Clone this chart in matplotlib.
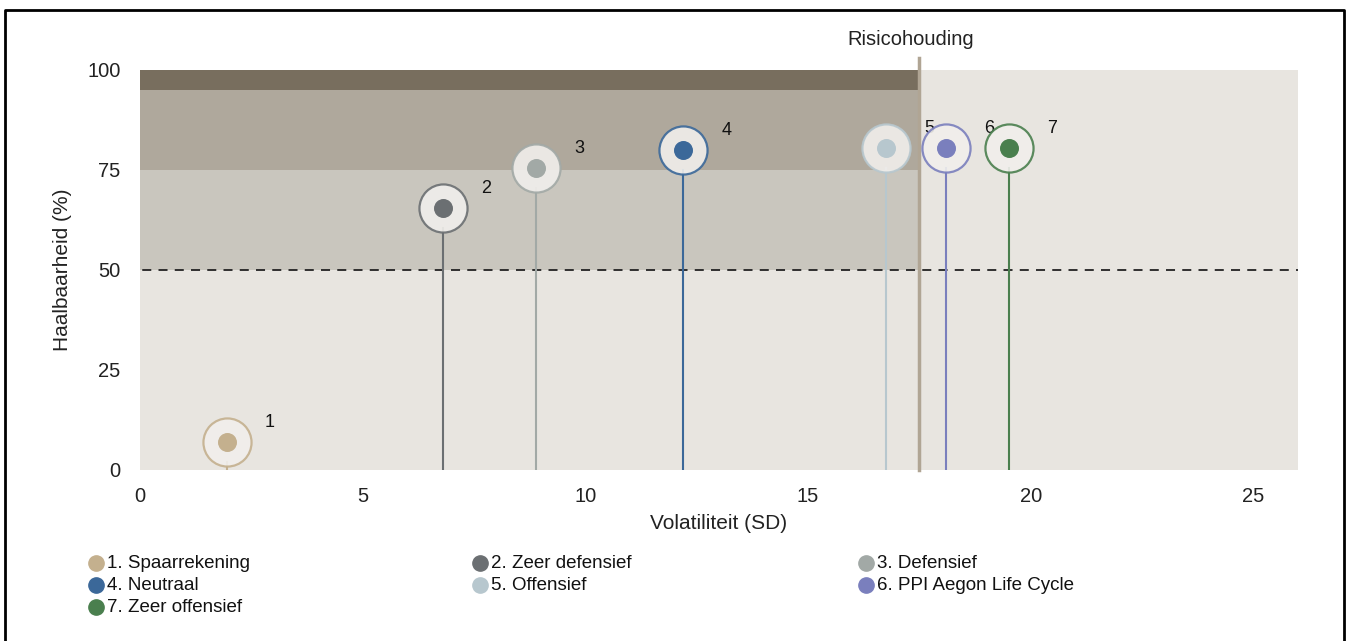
import numpy as np
import matplotlib.pyplot as plt
from matplotlib.lines import Line2D

# risk profile chart: haalbaarheid vs volatiliteit
names = ["1. Spaarrekening", "2. Zeer defensief", "3. Defensief", "4. Neutraal",
         "5. Offensief", "6. PPI Aegon Life Cycle", "7. Zeer offensief"]
labels = ["1", "2", "3", "4", "5", "6", "7"]
volatility = [1.95, 6.8, 8.9, 12.2, 16.75, 18.1, 19.5]
feasibility = [7.0, 65.5, 75.5, 80.0, 80.5, 80.5, 80.5]
colors = ["#c4b08e", "#6b6f72", "#a2a9a6", "#3b6899", "#b7c7ce", "#7a7fbd", "#4a7f4e"]

risk_limit = 17.5
band_edges = [0, 50, 75, 95, 100]
band_colors = ["#e8e5e0", "#c9c6be", "#afa89c", "#786e5e"]

FONT = "Liberation Sans"

fig = plt.figure(figsize=(13.49, 6.41), dpi=100)
ax = fig.add_axes([0.1038, 0.2668, 0.8584, 0.624])
ax.set_xlim(0, 26)
ax.set_ylim(0, 100)

ax.axvspan(0, 26, color="#e8e5e0", lw=0, zorder=0)
for i in range(len(band_colors)):
    ax.fill_between([0, risk_limit], band_edges[i], band_edges[i + 1],
                    color=band_colors[i], lw=0, zorder=0.5)

ax.axhline(50, color="#222222", lw=1.3, ls=(0, (5, 4)), zorder=1, xmin=-0.012)
ax.plot([risk_limit, risk_limit], [0, 103], color="#b0a594", lw=2.5,
        clip_on=False, zorder=1.5)
ax.text(risk_limit - 0.2, 105.3, "Risicohouding", ha="center", va="bottom",
        fontsize=14.5, family=FONT, color="#222222")

for x, y, c, lab in zip(volatility, feasibility, colors, labels):
    ax.plot([x, x], [0, y - 5], color=c, lw=1.5, zorder=2)
    ax.scatter([x], [y], s=1200, facecolor="#f1efec", edgecolor=c, lw=1.6,
               zorder=3, alpha=0.9)
    ax.scatter([x], [y], s=160, color=c, zorder=4)
    ax.annotate(lab, (x, y), xytext=(31, 14), textcoords="offset points",
                fontsize=13, family=FONT, ha="center", va="center",
                color="#111111")

for s in ax.spines.values():
    s.set_visible(False)
ax.tick_params(length=0, labelsize=14.5, colors="#222222")
ax.tick_params(axis="y", pad=14)
ax.tick_params(axis="x", pad=12)
ax.set_xticks([0, 5, 10, 15, 20, 25])
ax.set_yticks([0, 25, 50, 75, 100])
for t in ax.get_xticklabels() + ax.get_yticklabels():
    t.set_family(FONT)
ax.set_xlabel("Volatiliteit (SD)", fontsize=15, family=FONT,
              labelpad=6, color="#222222")
ax.set_ylabel("Haalbaarheid (%)", fontsize=15, family=FONT,
              labelpad=11, color="#222222")

# legend laid out in rows of three
col_x = [96, 480, 866]
row_y = [563, 585, 607]
W, H = 1349, 641
for i, (name, c) in enumerate(zip(names, colors)):
    px = col_x[i % 3]
    py = row_y[i // 3]
    fig.add_artist(Line2D([px / W], [1 - py / H], ls="none", marker="o", ms=11,
                          color=c, transform=fig.transFigure))
    fig.text((px + 11) / W, 1 - py / H, name, ha="left", va="center",
             fontsize=13.5, family=FONT, color="#111111")

# outer frame
fig.add_artist(Line2D([0.004, 0.004, 0.996, 0.996], [0, 0.984, 0.984, 0],
                      transform=fig.transFigure, color="black", lw=2))

fig.savefig("out.png", dpi=100)
